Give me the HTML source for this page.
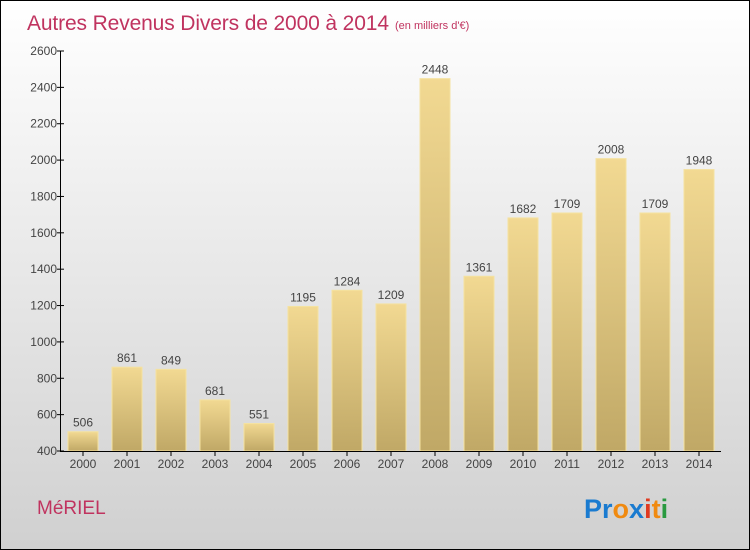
<!DOCTYPE html>
<html><head><meta charset="utf-8"><style>
body{margin:0}
#c{width:748px;height:548px;border:1px solid #000;background:linear-gradient(#fff,#d0d0d0);position:relative;font-family:"Liberation Sans",sans-serif;overflow:hidden}
</style></head><body>
<div id="c">
<svg width="748" height="548" id="s">
<defs><linearGradient id="g" x1="0" y1="0" x2="0" y2="1"><stop offset="0" stop-color="#f2d992"/><stop offset="1" stop-color="#c0a866"/></linearGradient></defs>
<text x="26" y="29" font-size="21" fill="#c0335f" textLength="362">Autres Revenus Divers de 2000 à 2014</text>
<text x="394" y="28" font-size="11" fill="#c0335f">(en milliers d'€)</text>
<text x="36" y="513" font-size="19" fill="#c0335f">MéRIEL</text>
<g font-size="27" font-weight="bold" font-family="Liberation Sans, sans-serif">
<text x="583" y="517"><tspan fill="#1a7bd0">Pr</tspan><tspan fill="#f08a10">o</tspan><tspan fill="#1a7bd0">x</tspan><tspan fill="#e03a20">i</tspan><tspan fill="#f08a10">t</tspan><tspan fill="#2a9a40">i</tspan></text>
</g>
<g id="bars"></g>
<line x1="59.5" y1="50" x2="59.5" y2="450" stroke="#000"/>
<line x1="59" y1="450.5" x2="720" y2="450.5" stroke="#000"/>
</svg></div>
<script>
const years=["2000","2001","2002","2003","2004","2005","2006","2007","2008","2009","2010","2011","2012","2013","2014"];
const values=[506,861,849,681,551,1195,1284,1209,2448,1361,1682,1709,2008,1709,1948];
const yTicks=[400,600,800,1000,1200,1400,1600,1800,2000,2200,2400,2600];
const NS="http://www.w3.org/2000/svg";
const svg=document.getElementById('s'),g=document.getElementById('bars');
const yS=v=>450-(v-400)*400/2200;
const xS=i=>82+44*i;
function mk(t,a,p){const e=document.createElementNS(NS,t);for(const k in a)e.setAttribute(k,a[k]);(p||svg).appendChild(e);return e;}
yTicks.forEach(v=>{
 const y=yS(v);
 const l=mk('line',{x1:56,x2:63,y1:y,y2:y,stroke:'#000'});
 
 
 const t=mk('text',{x:56,y:y+4,'text-anchor':'end','font-size':12,fill:'#444'});t.textContent=v;
 
 
});
years.forEach((yr,i)=>{
 const x=xS(i),y=yS(values[i]);
 const r=mk('rect',{x:x-15,y:y,width:30,height:450-y,fill:'url(#g)',stroke:'#f5e2a0','stroke-width':1},g);
 
 
 const v=mk('text',{x:x,y:y-5,'text-anchor':'middle','font-size':12,fill:'#444'});v.textContent=values[i];
 
 
 const tk=mk('line',{x1:x,x2:x,y1:450,y2:455,stroke:'#000'});
 
 
 const t=mk('text',{x:x,y:467,'text-anchor':'middle','font-size':12,fill:'#444'});t.textContent=yr;
 
 
});
</script>
</body></html>
